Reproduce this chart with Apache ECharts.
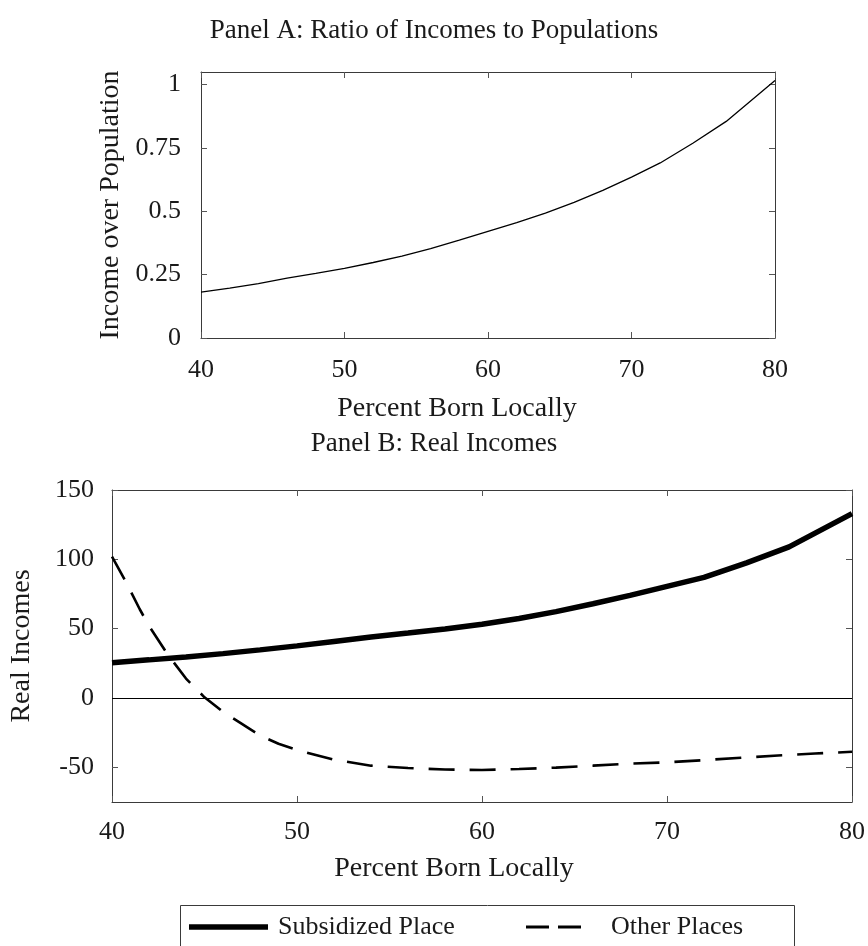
<!DOCTYPE html>
<html><head><meta charset="utf-8">
<script src="https://cdn.jsdelivr.net/npm/echarts/dist/echarts.min.js"></script>
<style>html,body{margin:0;padding:0;background:#fff}#c{width:868px;height:946px}</style>
</head><body><div id="c"></div>
<script>
// ---- data ----
const pctBorn = [40, 42, 44, 46, 48, 50, 52, 54, 56, 58, 60, 62, 64, 66, 68, 70, 72, 74.3, 76.6, 80];
const incomeOverPop = [0.181, 0.197, 0.215, 0.236, 0.255, 0.275, 0.298, 0.323, 0.353, 0.386, 0.421, 0.455, 0.493, 0.535, 0.583, 0.635, 0.691, 0.770, 0.855, 1.016];
const subsidized = [25.5, 27.5, 29.6, 32.0, 34.7, 37.6, 40.8, 44.0, 46.8, 49.8, 53.2, 57.3, 62.3, 68.0, 74.0, 80.5, 87.0, 97.5, 109.0, 133.0];
const otherX = [40, 40.7, 41.5, 42, 43, 44, 45, 46, 47, 48, 49, 50, 52, 54, 56, 58, 60, 62, 64, 66, 68, 70, 72, 74, 76, 78, 80];
const otherPlaces = [102, 85, 64, 52, 31.6, 14, 0.5, -10, -18.5, -27, -33, -37.5, -44.5, -48.8, -50.5, -51.6, -51.9, -51.2, -50.2, -48.8, -47.3, -46.4, -44.8, -43.1, -41.5, -40.0, -38.8];
const xTicks = [40, 50, 60, 70, 80];
const yTicksA = [0, 0.25, 0.5, 0.75, 1];
const yTicksB = [-50, 0, 50, 100, 150];
const titleA = 'Panel A: Ratio of Incomes to Populations';
const titleB = 'Panel B: Real Incomes';
const xName = 'Percent Born Locally';
const yNameA = 'Income over Population';
const yNameB = 'Real Incomes';
const seriesNames = ['Subsidized Place', 'Other Places'];

// ---- style ----
const FONT = 'Liberation Serif';
const FS = 26;
const NFS = 28;
const TFS = 27;
const TXT = '#1a1a1a';
const AX = '#3a3a3a';

const zip = (xs, ys) => xs.map((x, i) => [x, ys[i]]);

function xAxisDef(grid, pos, main, margin, nameGap, shiftPad) {
  return {
    type: 'value', gridIndex: grid, position: pos, min: 40, max: 80,
    axisLine: { show: true, onZero: false, lineStyle: { color: AX, width: 1 } },
    axisTick: { show: true, inside: true, length: 6, lineStyle: { color: '#555', width: 1 }, customValues: xTicks },
    axisLabel: { show: main, fontFamily: FONT, fontSize: FS, color: TXT, margin: margin, customValues: xTicks },
    splitLine: { show: false },
    name: main ? xName : '', nameLocation: 'middle', nameGap: nameGap,
    nameTextStyle: { fontFamily: FONT, fontSize: NFS, color: TXT, padding: [0, shiftPad || 0, 0, 0] }
  };
}
function yAxisDef(grid, pos, main, min, max, ticks, margin, name, nameGap) {
  return {
    type: 'value', gridIndex: grid, position: pos, min: min, max: max,
    axisLine: { show: true, onZero: false, lineStyle: { color: AX, width: 1 } },
    axisTick: { show: true, inside: true, length: 6, lineStyle: { color: '#555', width: 1 }, customValues: ticks },
    axisLabel: { show: main, fontFamily: FONT, fontSize: FS, color: TXT, margin: margin, customValues: ticks },
    splitLine: { show: false },
    name: main ? name : '', nameLocation: 'middle', nameGap: nameGap, nameRotate: 90,
    nameTextStyle: { fontFamily: FONT, fontSize: NFS, color: TXT }
  };
}

const chart = echarts.init(document.getElementById('c'), null, { renderer: 'canvas' });
chart.setOption({
  backgroundColor: '#fff',
  animation: false,
  title: [
    { text: titleA, left: 'center', top: 12, textStyle: { fontFamily: FONT, fontSize: TFS, fontWeight: 'normal', color: TXT } },
    { text: titleB, left: 'center', top: 425, textStyle: { fontFamily: FONT, fontSize: TFS, fontWeight: 'normal', color: TXT } }
  ],
  grid: [
    { left: 201, top: 72, width: 574, height: 266 },
    { left: 112, top: 490, width: 744, height: 312 }
  ],
  xAxis: [
    xAxisDef(0, 'bottom', true, 19, 57, 62),
    xAxisDef(0, 'top', false, 0, 0),
    xAxisDef(1, 'bottom', true, 17, 53, 56),
    xAxisDef(1, 'top', false, 0, 0)
  ],
  yAxis: [
    yAxisDef(0, 'left', true, 0, 1.05, yTicksA, 20, yNameA, 75),
    yAxisDef(0, 'right', false, 0, 1.05, yTicksA, 0, '', 0),
    yAxisDef(1, 'left', true, -75, 150, yTicksB, 18, yNameB, 76),
    yAxisDef(1, 'right', false, -75, 150, yTicksB, 0, '', 0)
  ],
  legend: [
    { data: [{ name: seriesNames[0], icon: 'rect' }], left: 189, top: 914, itemWidth: 79, itemHeight: 5.5, padding: 0, itemGap: 0,
      symbolKeepAspect: false,
      textStyle: { fontFamily: FONT, fontSize: FS, color: TXT, padding: [0, 0, 0, 5] } },
    { data: [{ name: seriesNames[1], icon: 'path://M0 0H23V3H0Z M32 0H55V3H32Z' }], left: 526, top: 914, itemWidth: 55, itemHeight: 2.8, padding: 0,
      symbolKeepAspect: false,
      textStyle: { fontFamily: FONT, fontSize: FS, color: TXT, padding: [0, 0, 0, 25] } }
  ],
  graphic: [
    { type: 'rect', left: 178, top: 903, shape: { width: 614, height: 80 }, style: { fill: 'none', stroke: AX, lineWidth: 1 }, silent: true, z: -1 }
  ],
  series: [
    { type: 'line', name: 'ratio', xAxisIndex: 0, yAxisIndex: 0, data: zip(pctBorn, incomeOverPop),
      symbol: 'none', showSymbol: false, lineStyle: { color: '#000', width: 1.3 } },
    { type: 'line', name: seriesNames[0], xAxisIndex: 2, yAxisIndex: 2, data: zip(pctBorn, subsidized),
      symbol: 'none', showSymbol: false, itemStyle: { color: '#000' }, lineStyle: { color: '#000', width: 5.5 }, z: 3,
      markLine: { silent: true, symbol: ['none', 'none'], label: { show: false }, animation: false,
        lineStyle: { color: '#000', width: 1.2, type: 'solid' }, data: [{ yAxis: 0 }] } },
    { type: 'line', name: seriesNames[1], xAxisIndex: 2, yAxisIndex: 2, data: zip(otherX, otherPlaces),
      symbol: 'none', showSymbol: false, itemStyle: { color: '#000' }, lineStyle: { color: '#000', width: 2.6, type: [26, 15] }, z: 3 }
  ]
});
</script>
</body></html>
